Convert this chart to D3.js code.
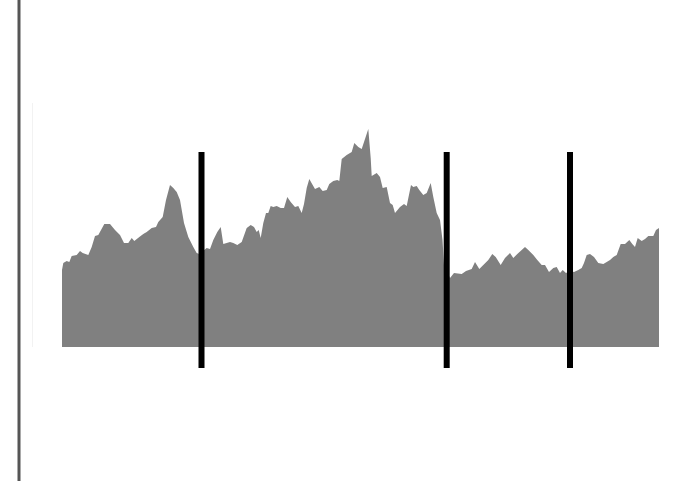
<!DOCTYPE html>
<html>
<head>
<meta charset="utf-8">
<script src="https://cdn.jsdelivr.net/npm/d3@7"></script>
<style>
  html, body { margin: 0; padding: 0; background: #fff; }
  svg { display: block; }
</style>
</head>
<body>
<svg id="chart" width="684" height="481"></svg>
<script>
// ---- data ----
const days = [
  0, 1.3, 4.7, 7.3, 9.7, 14.7, 18, 20.7, 26.3, 29.7,
  33, 36.3, 42.3, 48, 53, 58, 62, 66.3, 69.7, 72.3,
  77.3, 81.3, 84.7, 89.7, 94, 96.3, 100.7, 104, 108, 111.3,
  114.7, 118, 122, 126.3, 131.3, 134.7, 137.3, 144.7, 148, 151.3,
  155.3, 158.7, 161.3, 168, 171.3, 175.3, 179.7, 184.7, 188.7, 192,
  194.7, 196.7, 198.7, 201.3, 204, 206.3, 208.7, 211.3, 214.7, 218.7,
  222, 225.3, 228.7, 233, 236.3, 239.7, 242, 244.7, 247.3, 250.7,
  253, 257.3, 260.7, 264.7, 267.3, 271.3, 275.3, 277.3, 279.7, 284.7,
  289.7, 292.3, 296.3, 299.7, 303, 306.3, 308.7, 309.7, 314.7, 318,
  320.7, 324.7, 328, 330.7, 333, 338, 342, 344.7, 349, 351.3,
  354.7, 357.3, 361.3, 364.7, 368.7, 371.3, 374.7, 378, 380.5, 382,
  388, 392, 399.7, 404, 409.7, 413, 417.3, 421.3, 426.3, 430.3,
  433.7, 438.7, 443, 448, 451.3, 455.3, 459.7, 463, 466.3, 471.3,
  475.3, 479.7, 483, 487, 491.3, 494.7, 498, 500.7, 504, 508,
  512, 516.3, 519.7, 522, 524.7, 528, 532, 536.3, 541.3, 544.7,
  548, 551.3, 554.7, 558.7, 563, 567.3, 570.3, 573, 575.7, 579.7,
  583, 586.3, 591.3, 594, 597
];
const values = [
  77, 84, 86, 85, 91, 92, 96, 94, 92, 100,
  111, 112, 123, 123, 117, 112, 104, 104, 109, 106,
  110, 113, 115, 119, 120, 125, 130, 147, 162, 159,
  155, 147, 124, 110, 100, 94, 93, 99, 98, 107,
  115, 120, 103, 105, 104, 102, 105, 119, 122, 120,
  115, 117, 109, 124, 134, 134, 141, 140, 141, 139,
  139, 150, 145, 140, 141, 134, 143, 159, 168, 162,
  158, 160, 156, 157, 163, 166, 167, 166, 188, 192,
  195, 204, 200, 198, 208, 218, 189, 171, 174, 170,
  159, 160, 144, 142, 134, 140, 143, 141, 162, 160,
  161, 157, 152, 154, 164, 150, 134, 127, 107, 82,
  69, 74, 73, 76, 78, 85, 78, 82, 87, 93,
  90, 82, 89, 94, 89, 93, 97, 100, 97, 92,
  87, 82, 82, 75, 79, 80, 74, 77, 74, 76,
  75, 77, 79, 84, 92, 93, 90, 84, 83, 85,
  87, 90, 92, 103, 103, 107, 103, 100, 109, 106,
  108, 111, 111, 117, 119
];
const eventDays = [139.5, 384.7, 508];
const eventExtent = [-21, 195];
const xDomain = [0, 597];
const yDomain = [0, 250];

// ---- chart ----
const svg = d3.select("#chart");
const x = d3.scaleLinear().domain(xDomain).range([62, 659]);
const y = d3.scaleLinear().domain(yDomain).range([347, 97]);

const data = days.map((d, i) => ({ t: d, v: values[i] }));

// outer left rule
svg.append("line")
  .attr("x1", 19).attr("x2", 19)
  .attr("y1", 0).attr("y2", 481)
  .attr("stroke", "#555").attr("stroke-width", 3);

// faint axis line
svg.append("line")
  .attr("x1", 32.5).attr("x2", 32.5)
  .attr("y1", 103).attr("y2", y(0))
  .attr("stroke", "#f2f2f2").attr("stroke-width", 1);

const area = d3.area()
  .x(d => x(d.t))
  .y0(y(0))
  .y1(d => y(d.v));

svg.append("path")
  .datum(data)
  .attr("d", area)
  .attr("fill", "#808080");

svg.selectAll("line.event")
  .data(eventDays)
  .join("line")
  .attr("class", "event")
  .attr("x1", d => x(d)).attr("x2", d => x(d))
  .attr("y1", y(eventExtent[1])).attr("y2", y(eventExtent[0]))
  .attr("stroke", "#000").attr("stroke-width", 6);
</script>
</body>
</html>
